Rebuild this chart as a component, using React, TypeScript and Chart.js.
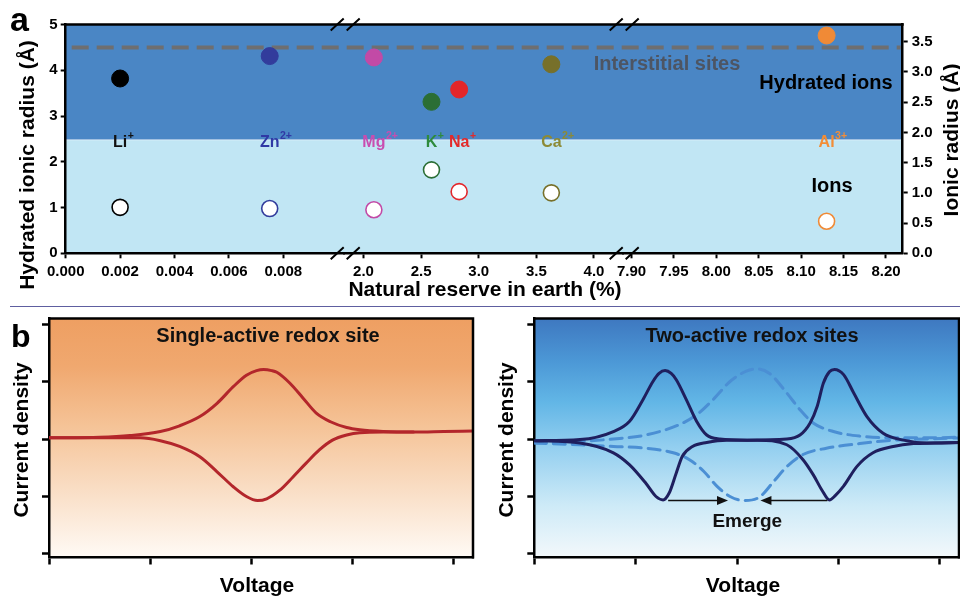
import React, { useEffect, useRef } from 'react';
import { Chart, registerables } from 'chart.js';

Chart.register(...registerables);

const FONT = '"Liberation Sans", Arial, Helvetica, sans-serif';
Chart.defaults.font.family = FONT;

// ---------------- Panel a data ----------------
const ionNames = ['Li', 'Zn', 'Mg', 'K', 'Na', 'Ca', 'Al'];
const ionCharges = ['+', '2+', '2+', '+', '+', '2+', '3+'];
const naturalReserve = [0.002, 0.0075, 2.09, 2.59, 2.83, 3.63, 8.13];
const hydratedRadius = [3.82, 4.31, 4.28, 3.31, 3.58, 4.13, 4.76];
const ionicRadius = [0.76, 0.74, 0.72, 1.38, 1.02, 1.0, 0.53];
const pointColors = ['#000000', '#323c9c', '#c24aa6', '#2b6e35', '#e3262a', '#77702a', '#f08a36'];
const labelColors = ['#111111', '#3039a5', '#c94db0', '#2e8b3c', '#e32a2a', '#8c8a35', '#f38d36'];

const reserveSegMin = [0, 1.8369, 7.8908];
const reserveSegMax = [0.010257, 4.2577, 8.2197];
const reserveSegTicks = [
  [0, 0.002, 0.004, 0.006, 0.008],
  [2.0, 2.5, 3.0, 3.5, 4.0],
  [7.9, 7.95, 8.0, 8.05, 8.1, 8.15, 8.2],
];
const reserveSegDecimals = [3, 1, 2];
const hydratedTicks = [0, 1, 2, 3, 4, 5];
const ionicTicks = [0, 0.5, 1, 1.5, 2, 2.5, 3, 3.5];
const hydratedMax = 5;
const ionicMax = 3.784;
const interstitialLevel = 4.5;
const hydratedBandFloor = 2.48;

// ---------------- Panel b data ----------------
const voltageTicks = [0, 1, 2, 3, 4];
const currentTicks = [-2, -1, 0, 1, 2];
const voltageMax = 4.188;
const currentMin = -2.061;
const currentMax = 2.096;

const singleOxV = [0, 0.5, 0.8, 1.1, 1.29, 1.49, 1.66, 1.82, 1.95, 2.05, 2.12, 2.2, 2.25, 2.38, 2.51, 2.64, 2.78, 2.94, 3.07, 3.3, 3.6, 3.9, 4.19];
const singleOxI = [0.02, 0.03, 0.06, 0.13, 0.23, 0.39, 0.62, 0.91, 1.11, 1.19, 1.21, 1.19, 1.16, 0.97, 0.71, 0.45, 0.3, 0.2, 0.16, 0.13, 0.12, 0.13, 0.14];
const singleRedV = [0, 0.5, 0.9, 1.1, 1.29, 1.49, 1.66, 1.82, 1.95, 2.06, 2.15, 2.28, 2.41, 2.54, 2.67, 2.8, 2.94, 3.07, 3.3, 3.6];
const singleRedI = [0.02, 0.02, 0.02, -0.03, -0.13, -0.31, -0.57, -0.83, -1.0, -1.07, -1.04, -0.89, -0.66, -0.42, -0.19, -0.02, 0.07, 0.11, 0.12, 0.12];

const twoOxV = [0, 0.45, 0.78, 0.94, 1.07, 1.17, 1.23, 1.29, 1.35, 1.4, 1.5, 1.6, 1.7, 1.83, 2.1, 2.49, 2.62, 2.72, 2.79, 2.85, 2.91, 2.96, 3.05, 3.15, 3.28, 3.44, 3.64, 3.87, 4.19];
const twoOxI = [-0.03, -0.01, 0.13, 0.31, 0.68, 1.0, 1.14, 1.19, 1.14, 1.03, 0.68, 0.31, 0.07, 0.0, -0.02, 0.0, 0.07, 0.28, 0.57, 0.97, 1.17, 1.21, 1.12, 0.8, 0.39, 0.1, -0.02, -0.07, -0.06];
const twoRedV = [0, 0.45, 0.78, 0.94, 1.1, 1.2, 1.27, 1.33, 1.4, 1.46, 1.56, 1.7, 1.9, 2.2, 2.49, 2.65, 2.75, 2.84, 2.91, 2.97, 3.05, 3.18, 3.34, 3.54, 3.74, 3.95, 4.19];
const twoRedI = [-0.03, -0.07, -0.24, -0.45, -0.77, -1.0, -1.06, -0.94, -0.59, -0.3, -0.13, -0.06, -0.02, -0.02, -0.1, -0.36, -0.62, -0.9, -1.06, -0.98, -0.82, -0.48, -0.24, -0.13, -0.08, -0.07, -0.06];
const mergedOxV = [0, 0.45, 0.78, 1.1, 1.43, 1.6, 1.76, 1.93, 2.09, 2.19, 2.32, 2.49, 2.62, 2.75, 2.95, 3.21, 3.54, 3.87, 4.19];
const mergedOxI = [-0.07, -0.04, 0.0, 0.07, 0.25, 0.42, 0.68, 1.0, 1.18, 1.22, 1.14, 0.8, 0.51, 0.28, 0.13, 0.05, 0.02, 0.02, 0.03];
const mergedRedV = [0, 0.45, 0.78, 1.1, 1.37, 1.53, 1.67, 1.8, 1.93, 2.07, 2.22, 2.36, 2.49, 2.65, 2.88, 3.21, 3.54, 3.87, 4.19];
const mergedRedI = [-0.07, -0.1, -0.13, -0.16, -0.24, -0.36, -0.56, -0.82, -1.0, -1.07, -1.01, -0.74, -0.48, -0.27, -0.16, -0.08, -0.02, 0.0, 0.02];

const emergeArrowFrom = [1.32, 2.89];
const emergeArrowTo = [1.91, 2.23];
const emergeArrowLevel = -1.07;
const emergeLabelAt = [2.1, -1.44];

const pts = (xs: number[], ys: number[]) => xs.map((x, i) => ({ x, y: ys[i] }));
const segOf = (v: number) => reserveSegMin.findIndex((m, i) => v >= m && v <= reserveSegMax[i]);

function drawText(ctx: CanvasRenderingContext2D, text: string, x: number, y: number, size: number, color: string,
  align: CanvasTextAlign = 'center', baseline: CanvasTextBaseline = 'middle', rotate = 0) {
  ctx.save();
  ctx.font = `bold ${size}px ${FONT}`;
  ctx.fillStyle = color;
  ctx.textAlign = align;
  ctx.textBaseline = baseline;
  if (rotate) {
    ctx.translate(x, y);
    ctx.rotate(rotate);
    ctx.fillText(text, 0, 0);
  } else {
    ctx.fillText(text, x, y);
  }
  ctx.restore();
}

const gridOpts = (len: number, w: number) => ({
  display: true, drawOnChartArea: false, drawTicks: true, tickLength: len, tickWidth: w, tickColor: '#000',
});
const borderOpts = { display: true, color: '#000', width: 2.5 };

function buildPanelA(): any {
  const tickFont = { family: FONT, size: 15, weight: 'bold' };
  const scales: any = {};
  reserveSegMin.forEach((mn, i) => {
    scales['x' + i] = {
      type: 'linear', axis: 'x', position: 'bottom', stack: 'reserve', stackWeight: 1,
      min: mn, max: reserveSegMax[i],
      afterBuildTicks: (s: any) => { s.ticks = reserveSegTicks[i].map((v) => ({ value: v })); },
      afterFit: (s: any) => { s.height = 46.7; },
      grid: gridOpts(5, 2), border: borderOpts,
      ticks: {
        font: tickFont, color: '#000', padding: 5, autoSkip: false, maxRotation: 0, minRotation: 0,
        callback: (v: any) => Number(v).toFixed(reserveSegDecimals[i]),
      },
    };
  });
  scales.yh = {
    type: 'linear', axis: 'y', position: 'left', min: 0, max: hydratedMax,
    afterBuildTicks: (s: any) => { s.ticks = hydratedTicks.map((v) => ({ value: v })); },
    afterFit: (s: any) => { s.width = 65.7; },
    grid: gridOpts(5, 2), border: borderOpts,
    ticks: { font: tickFont, color: '#000', padding: 3, callback: (v: any) => String(v) },
  };
  scales.yi = {
    type: 'linear', axis: 'y', position: 'right', min: 0, max: ionicMax,
    afterBuildTicks: (s: any) => { s.ticks = ionicTicks.map((v) => ({ value: v })); },
    afterFit: (s: any) => { s.width = 57.3; },
    grid: gridOpts(5, 2), border: borderOpts,
    ticks: { font: tickFont, color: '#000', padding: 4, callback: (v: any) => Number(v).toFixed(1) },
  };

  const datasets: any[] = [];
  ionNames.forEach((n, i) => {
    const s = segOf(naturalReserve[i]);
    datasets.push({
      label: n + ' hydrated', xAxisID: 'x' + s, yAxisID: 'yh',
      data: [{ x: naturalReserve[i], y: hydratedRadius[i] }],
      pointRadius: 8.5, pointHoverRadius: 8.5,
      pointBackgroundColor: pointColors[i], pointBorderColor: pointColors[i], pointBorderWidth: 1,
      clip: false,
    });
    datasets.push({
      label: n + ' ionic', xAxisID: 'x' + s, yAxisID: 'yi',
      data: [{ x: naturalReserve[i], y: ionicRadius[i] }],
      pointRadius: 8, pointHoverRadius: 8,
      pointBackgroundColor: '#ffffff', pointBorderColor: pointColors[i], pointBorderWidth: 1.6,
      clip: false,
    });
  });

  const plugin = {
    id: 'panelA',
    beforeDraw(chart: any) {
      const { ctx, chartArea: ca, scales: sc } = chart;
      const yb = sc.yh.getPixelForValue(hydratedBandFloor);
      ctx.save();
      ctx.fillStyle = '#c1e6f4';
      ctx.fillRect(ca.left, yb, ca.right - ca.left, ca.bottom - yb);
      ctx.fillStyle = '#4a86c5';
      ctx.fillRect(ca.left, ca.top, ca.right - ca.left, yb - ca.top);
      ctx.fillStyle = 'rgba(255,255,255,0.55)';
      ctx.fillRect(ca.left, yb - 0.5, ca.right - ca.left, 1);
      ctx.restore();
    },
    beforeDatasetsDraw(chart: any) {
      const { ctx, chartArea: ca, scales: sc } = chart;
      const y = sc.yh.getPixelForValue(interstitialLevel);
      ctx.save();
      ctx.strokeStyle = '#6e6e70';
      ctx.lineWidth = 4;
      ctx.setLineDash([17, 8]);
      ctx.beginPath();
      ctx.moveTo(ca.left + 6, y);
      ctx.lineTo(ca.right - 2, y);
      ctx.stroke();
      ctx.restore();
    },
    afterDatasetsDraw(chart: any) {
      const { ctx, scales: sc } = chart;
      const yb = sc.yh.getPixelForValue(hydratedBandFloor);
      ionNames.forEach((name, i) => {
        const s = segOf(naturalReserve[i]);
        const px = sc['x' + s].getPixelForValue(naturalReserve[i]);
        ctx.save();
        ctx.font = `bold 16px ${FONT}`;
        const w = ctx.measureText(name).width;
        ctx.fillStyle = labelColors[i];
        ctx.textAlign = 'left';
        ctx.textBaseline = 'alphabetic';
        ctx.fillText(name, px - w / 2, yb + 7);
        ctx.font = `bold 10.5px ${FONT}`;
        ctx.fillText(ionCharges[i], px + w / 2 + 0.5, yb - 0.5);
        ctx.restore();
      });
    },
    afterDraw(chart: any) {
      const { ctx, chartArea: ca, scales: sc } = chart;
      ctx.save();
      ctx.strokeStyle = '#000';
      ctx.lineWidth = 2.5;
      ctx.beginPath();
      ctx.moveTo(ca.left - 1, ca.top);
      ctx.lineTo(ca.right + 1, ca.top);
      ctx.stroke();
      ctx.lineWidth = 2;
      [sc.x0.right, sc.x1.right].forEach((bx: number) => {
        [ca.top, ca.bottom].forEach((y0: number) => {
          ctx.beginPath();
          ctx.moveTo(bx - 14, y0 + 6);
          ctx.lineTo(bx - 1, y0 - 6);
          ctx.moveTo(bx + 2, y0 + 6);
          ctx.lineTo(bx + 15, y0 - 6);
          ctx.stroke();
        });
      });
      ctx.restore();

      drawText(ctx, 'a', 10, 31, 34, '#000', 'left', 'alphabetic');
      drawText(ctx, 'Hydrated ionic radius (Å)', 28, 165, 21, '#000', 'center', 'middle', -Math.PI / 2);
      drawText(ctx, 'Ionic radius (Å)', 952, 140, 21, '#000', 'center', 'middle', -Math.PI / 2);
      drawText(ctx, 'Natural reserve in earth (%)', 485, 290, 21, '#000');
      drawText(ctx, 'Interstitial sites', 667, 64, 20, '#4d5563');
      drawText(ctx, 'Hydrated ions', 826, 83, 20, '#000');
      drawText(ctx, 'Ions', 832, 186, 20, '#000');
    },
  };

  return {
    type: 'scatter',
    data: { datasets },
    options: {
      responsive: false, animation: false, events: [],
      layout: { padding: { left: 0, right: 0, top: 24.5, bottom: 0 } },
      plugins: { legend: { display: false }, tooltip: { enabled: false }, title: { display: false } },
      scales,
    },
    plugins: [plugin],
  };
}

type BOpts = {
  yWidth: number;
  padRight: number;
  gradient: [number, string][];
  title: string;
  titleX: number;
  yLabelX: number;
  xLabelX: number;
  letter: boolean;
  arrows: boolean;
  datasets: any[];
};

function buildPanelB(o: BOpts): any {
  const plugin = {
    id: 'panelB',
    beforeDraw(chart: any) {
      const { ctx, chartArea: ca } = chart;
      const g = ctx.createLinearGradient(0, ca.top, 0, ca.bottom);
      o.gradient.forEach(([s, c]) => g.addColorStop(s, c));
      ctx.save();
      ctx.fillStyle = g;
      ctx.fillRect(ca.left, ca.top, ca.right - ca.left, ca.bottom - ca.top);
      ctx.restore();
    },
    afterDatasetsDraw(chart: any) {
      if (!o.arrows) return;
      const { ctx, scales: sc } = chart;
      const y = sc.y.getPixelForValue(emergeArrowLevel);
      ctx.save();
      ctx.strokeStyle = '#111';
      ctx.fillStyle = '#111';
      ctx.lineWidth = 1.5;
      emergeArrowFrom.forEach((f, i) => {
        const x0 = sc.x.getPixelForValue(f);
        const x1 = sc.x.getPixelForValue(emergeArrowTo[i]);
        const dir = x1 > x0 ? 1 : -1;
        ctx.beginPath();
        ctx.moveTo(x0, y);
        ctx.lineTo(x1 - dir * 8, y);
        ctx.stroke();
        ctx.beginPath();
        ctx.moveTo(x1, y);
        ctx.lineTo(x1 - dir * 11, y - 4.5);
        ctx.lineTo(x1 - dir * 11, y + 4.5);
        ctx.closePath();
        ctx.fill();
      });
      ctx.restore();
      drawText(ctx, 'Emerge', sc.x.getPixelForValue(emergeLabelAt[0]), sc.y.getPixelForValue(emergeLabelAt[1]), 19, '#111');
    },
    afterDraw(chart: any) {
      const { ctx, chartArea: ca } = chart;
      ctx.save();
      ctx.strokeStyle = '#000';
      ctx.lineWidth = 2.5;
      ctx.beginPath();
      ctx.moveTo(ca.left - 1, ca.top);
      ctx.lineTo(ca.right, ca.top);
      ctx.lineTo(ca.right, ca.bottom + 1);
      ctx.stroke();
      ctx.restore();
      drawText(ctx, o.title, o.titleX, 36, 20, '#111');
      drawText(ctx, 'Current density', o.yLabelX, 140, 21, '#000', 'center', 'middle', -Math.PI / 2);
      drawText(ctx, 'Voltage', o.xLabelX, 286, 21, '#000');
      if (o.letter) drawText(ctx, 'b', 11, 47, 32, '#000', 'left', 'alphabetic');
    },
  };

  return {
    type: 'line',
    data: { datasets: o.datasets },
    options: {
      responsive: false, animation: false, events: [],
      layout: { padding: { left: 0, right: o.padRight, top: 18.5, bottom: 0 } },
      plugins: { legend: { display: false }, tooltip: { enabled: false }, title: { display: false } },
      elements: { point: { radius: 0, hoverRadius: 0 } },
      scales: {
        x: {
          type: 'linear', min: 0, max: voltageMax,
          afterBuildTicks: (s: any) => { s.ticks = voltageTicks.map((v) => ({ value: v })); },
          afterFit: (s: any) => { s.height = 38.5; },
          grid: gridOpts(7, 2.5), border: borderOpts,
          ticks: { display: false },
        },
        y: {
          type: 'linear', min: currentMin, max: currentMax,
          afterBuildTicks: (s: any) => { s.ticks = currentTicks.map((v) => ({ value: v })); },
          afterFit: (s: any) => { s.width = o.yWidth; },
          grid: gridOpts(7, 2.5), border: borderOpts,
          ticks: { display: false },
        },
      },
    },
    plugins: [plugin],
  };
}

const curve = (xs: number[], ys: number[], color: string, dash?: number[]) => ({
  data: pts(xs, ys),
  borderColor: color,
  borderWidth: 3,
  borderDash: dash || [],
  pointRadius: 0,
  fill: false,
  cubicInterpolationMode: 'monotone',
  borderCapStyle: 'round',
  borderJoinStyle: 'round',
});

function ChartCanvas({ left, top, width, height, build }: { left: number; top: number; width: number; height: number; build: () => any }) {
  const ref = useRef<HTMLCanvasElement | null>(null);
  useEffect(() => {
    if (!ref.current) return;
    const chart = new Chart(ref.current, build());
    return () => chart.destroy();
  }, []);
  return (
    <canvas
      ref={ref}
      width={width}
      height={height}
      style={{ position: 'absolute', left, top, width, height, display: 'block' }}
    />
  );
}

export default function App() {
  const red = '#b3262b';
  const navy = '#1f1f5e';
  const dashBlue = '#4b8fd4';
  return (
    <div style={{ position: 'fixed', left: 0, top: 0, width: 960, height: 596, background: '#fff', overflow: 'hidden' }}>
      <ChartCanvas left={0} top={0} width={960} height={300} build={buildPanelA} />
      <div style={{ position: 'absolute', left: 10, top: 305.5, width: 950, height: 1.6, background: '#5e5ea0' }} />
      <ChartCanvas
        left={0}
        top={300}
        width={480}
        height={296}
        build={() =>
          buildPanelB({
            yWidth: 49,
            padRight: 7,
            gradient: [[0, '#ee9f62'], [0.2, '#f0a86f'], [0.45, '#f5c397'], [0.7, '#f9dcc2'], [1, '#fffaf5']],
            title: 'Single-active redox site',
            titleX: 268,
            yLabelX: 22,
            xLabelX: 257,
            letter: true,
            arrows: false,
            datasets: [curve(singleOxV, singleOxI, red), curve(singleRedV, singleRedI, red)],
          })
        }
      />
      <ChartCanvas
        left={480}
        top={300}
        width={480}
        height={296}
        build={() =>
          buildPanelB({
            yWidth: 54.3,
            padRight: 1,
            gradient: [[0, '#3e78c0'], [0.18, '#4c98d6'], [0.35, '#62b6e6'], [0.55, '#96d0f0'], [0.78, '#cdeaf7'], [1, '#f3f8fb']],
            title: 'Two-active redox sites',
            titleX: 272,
            yLabelX: 27,
            xLabelX: 263,
            letter: false,
            arrows: true,
            datasets: [
              curve(twoOxV, twoOxI, navy),
              curve(twoRedV, twoRedI, navy),
              curve(mergedOxV, mergedOxI, dashBlue, [12, 7]),
              curve(mergedRedV, mergedRedI, dashBlue, [12, 7]),
            ],
          })
        }
      />
    </div>
  );
}
